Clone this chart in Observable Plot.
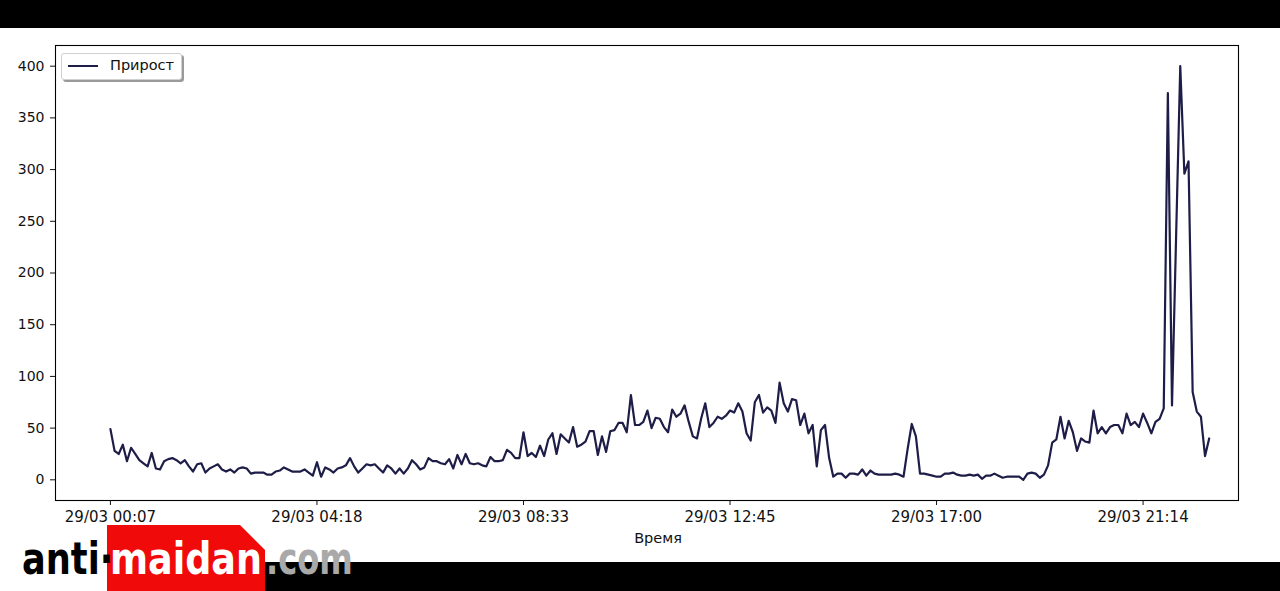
<!DOCTYPE html>
<html>
<head>
<meta charset="utf-8">
<script src="https://cdn.jsdelivr.net/npm/d3@7"></script>
<script src="https://cdn.jsdelivr.net/npm/@observablehq/plot@0.6"></script>
<style>
  html, body { margin: 0; padding: 0; background: #000; }
  #wrap { position: relative; width: 1280px; height: 591px; background: #000; overflow: hidden; font-family: "DejaVu Sans", sans-serif; }
  #white { position: absolute; left: 0; top: 28px; width: 1280px; height: 534px; background: #fff; }
  #chart { position: absolute; left: 0; top: 28px; }
  #legend { position: absolute; left: 61px; top: 53px; width: 121px; height: 27px; background: #fff;
            border: 1px solid #d0d0d0; border-radius: 3px; box-shadow: 2px 2px 0 #9a9a9a; box-sizing: border-box; }
  #legend .sw { position: absolute; left: 6px; top: 11px; width: 30px; height: 2px; background: #1d1d48; }
  #legend .tx { position: absolute; left: 48px; top: 3px; font-size: 14.5px; color: #111; }
  #xlabel { position: absolute; left: 658px; top: 530px; transform: translateX(-50%); font-size: 14.5px; color: #111; }
  .wm { position: absolute; font-weight: bold; font-size: 44px; line-height: 44px; transform-origin: 0 0; transform: scaleX(0.8); white-space: nowrap; }
</style>
</head>
<body>
<div id="wrap">
  <div id="white"></div>
  <div id="chart"></div>
  <div id="legend"><div class="sw"></div><div class="tx">Прирост</div></div>
  <div id="xlabel">Время</div>
  <div style="position:absolute;left:0;top:556px;width:107px;height:35px;background:#fff;"></div>
  <div style="position:absolute;left:107px;top:525px;width:158px;height:66px;background:#f10a0a;clip-path:polygon(0 0,133px 0,158px 25px,158px 66px,0 66px);"></div>
  <div class="wm" style="left:22px;top:537px;color:#000;">anti·</div>
  <div class="wm" style="left:110px;top:537px;color:#fff;transform:scaleX(0.83);">maidan</div>
  <div class="wm" style="left:266px;top:537px;color:#a9a9a9;transform:scaleX(0.73);">.com</div>
</div>
<script>
// Values "Прирост" per reading (index order, ~5-minute steps)
const values = [
  49, 28, 25, 34, 18, 31, 25, 19, 16, 13, 26, 11, 10, 18, 20, 21, 19, 16, 19, 13, 8, 15, 16, 7, 11, 13, 15, 10,
  8, 10, 7, 11, 12, 11, 6, 7, 7, 7, 5, 5, 8, 9, 12, 10, 8, 8, 8, 10, 7, 4, 17, 3, 12, 10, 7, 11, 12, 14, 21, 13,
  7, 11, 15, 14, 15, 11, 7, 14, 11, 6, 11, 6, 11, 19, 15, 10, 12, 21, 18, 18, 16, 15, 20, 11, 24, 15, 25, 16, 15, 16,
  14, 13, 22, 18, 18, 19, 29, 26, 21, 21, 46, 23, 26, 22, 33, 23, 39, 45, 25, 44, 40, 36, 51, 32, 34, 37, 47, 47, 24, 42, 27,
  47, 48, 55, 55, 46, 82, 53, 53, 56, 67, 50, 60, 59, 51, 46, 68, 61, 64, 72, 56, 42, 40, 59, 74, 51, 55, 61, 59, 62,
  67, 65, 74, 66, 45, 38, 75, 82, 65, 70, 67, 55, 94, 74, 66, 78, 77, 53, 64, 45, 53, 13, 48, 53, 21, 3, 6, 6, 2, 6,
  6, 5, 10, 4, 9, 6, 5, 5, 5, 5, 6, 5, 3, 30, 54, 42, 6, 6, 5, 4, 3, 3, 6, 6, 7, 5, 4, 4, 5, 4, 5,
  1, 4, 4, 6, 4, 2, 3, 3, 3, 3, 0, 6, 7, 6, 2, 5, 14, 36, 39, 61, 40, 57, 46, 28, 40, 37, 36, 67, 45, 51,
  45, 51, 53, 53, 45, 64, 53, 56, 51, 64, 55, 45, 56, 59, 69, 374, 72, 236, 400, 296, 308, 85, 66, 61, 23, 40
];
const tickIndex = [0, 50, 100, 150, 200, 250];
const tickLabels = ["29/03 00:07", "29/03 04:18", "29/03 08:33", "29/03 12:45", "29/03 17:00", "29/03 21:14"];
const yTicks = [0, 50, 100, 150, 200, 250, 300, 350, 400];

const data = values.map((v, i) => ({i, v}));

const chart = Plot.plot({
  width: 1280,
  height: 534,
  marginLeft: 55,
  marginRight: 42,
  marginTop: 17,
  marginBottom: 62,
  style: {fontFamily: "DejaVu Sans", fontSize: "14px", color: "#111", background: "transparent"},
  x: {domain: [-13.3, 273.1]},
  y: {domain: [-20, 420]},
  marks: [
    Plot.line(data, {x: "i", y: "v", stroke: "#1d1d48", strokeWidth: 2.2, strokeLinejoin: "round"}),
    Plot.frame({stroke: "#000", strokeWidth: 1.1}),
    Plot.axisX({ticks: tickIndex, tickFormat: d => tickLabels[tickIndex.indexOf(d)], tickSize: 5, tickPadding: 6, label: null, fontSize: 15}),
    Plot.axisY({ticks: yTicks, tickSize: 5, tickPadding: 6, label: null, fontSize: 14})
  ]
});
document.getElementById("chart").appendChild(chart);
</script>
</body>
</html>
